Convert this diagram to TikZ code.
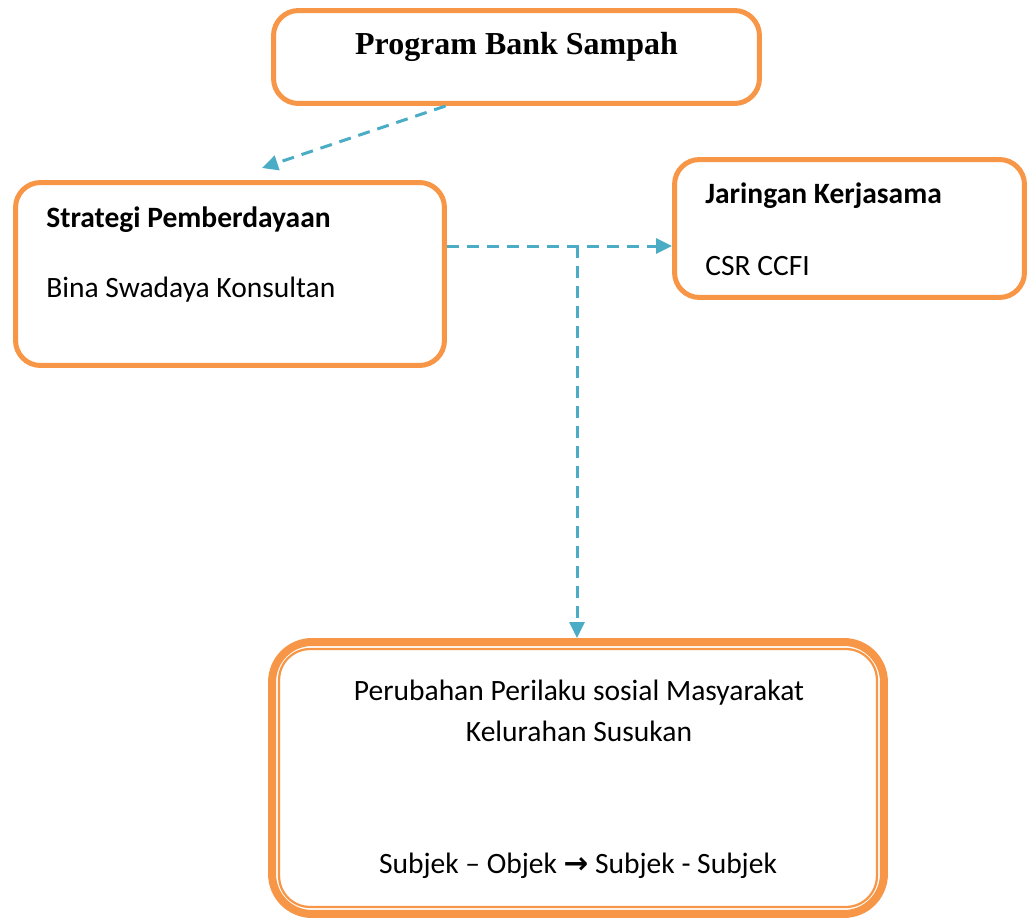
\documentclass[tikz,border=0pt]{standalone}
\usepackage{fontspec}
\setmainfont{Carlito}
\newfontfamily\titlefont{Liberation Serif}
\newfontfamily\symfont{DejaVu Sans}
\usetikzlibrary{positioning,arrows.meta,calc}

\definecolor{boxorange}{HTML}{F79646}
\definecolor{linkblue}{HTML}{4BACC6}

\tikzset{
  panel/.style={rectangle, rounded corners=0.5cm, draw=boxorange, line width=0.1cm},
  link/.style={draw=linkblue, line width=0.06cm, dash pattern=on 0.24cm off 0.16cm,
    -{Triangle[length=0.32cm, width=0.3cm]}},
  txt/.style={inner sep=0pt, font=\fontsize{16.8}{20}\selectfont}
}

\begin{document}
\begin{tikzpicture}[x=0.02cm, y=-0.02cm]
    \useasboundingbox (0,0) rectangle (1029,920);
    % Boxes
    \node (program) [panel, minimum width=9.72cm, minimum height=1.86cm] at (516.5, 57) {};
    \node (strategi) [panel, minimum width=8.58cm, minimum height=3.66cm] at (230, 274) {};
    \node (jaringan) [panel, minimum width=7cm, minimum height=2.76cm] at (849.5, 228.5) {};
    \node (perubahan) [panel, line width=0.16cm, rounded corners=0.8cm, minimum width=12.24cm, minimum height=5.44cm] at (578, 778) {};
    \draw[boxorange, line width=0.045cm, rounded corners=0.62cm]
      ([shift={(11,11)}]perubahan.north west) rectangle ([shift={(-11,-11)}]perubahan.south east);
    % Texts
    \node (title) [inner sep=0pt, font=\titlefont\bfseries\fontsize{18.2}{22}\selectfont] at (516.5, 47) {Program Bank Sampah};
    \node (strategiHead) [txt, anchor=west, font=\bfseries\fontsize{16.8}{20}\selectfont] at (46, 220) {Strategi Pemberdayaan};
    \node (strategiBody) [txt, anchor=west] at (46, 290) {Bina Swadaya Konsultan};
    \node (jaringanHead) [txt, anchor=west, font=\bfseries\fontsize{16.8}{20}\selectfont] at (705, 196) {Jaringan Kerjasama};
    \node (jaringanBody) [txt, anchor=west] at (705, 266) {CSR CCFI};
    \node (perubahanA) [txt] at (579, 693) {Perubahan Perilaku sosial Masyarakat};
    \node (perubahanB) [txt] at (579, 731) {Kelurahan Susukan};
    \node (perubahanC) [txt] at (578, 866) {Subjek – Objek {\symfont\bfseries →} Subjek - Subjek};
    % Arrows
    \coordinate (tip) at (262, 168);
    \coordinate (split) at (577, 246);
    \draw[link] ([shift={(-71,0)}]program.south) -- (tip);
    \draw[link] ([shift={(0,-28)}]strategi.east) -- (jaringan.west |- split);
    \draw[link] (split) -- (perubahan.north -| split);
\end{tikzpicture}
\end{document}
